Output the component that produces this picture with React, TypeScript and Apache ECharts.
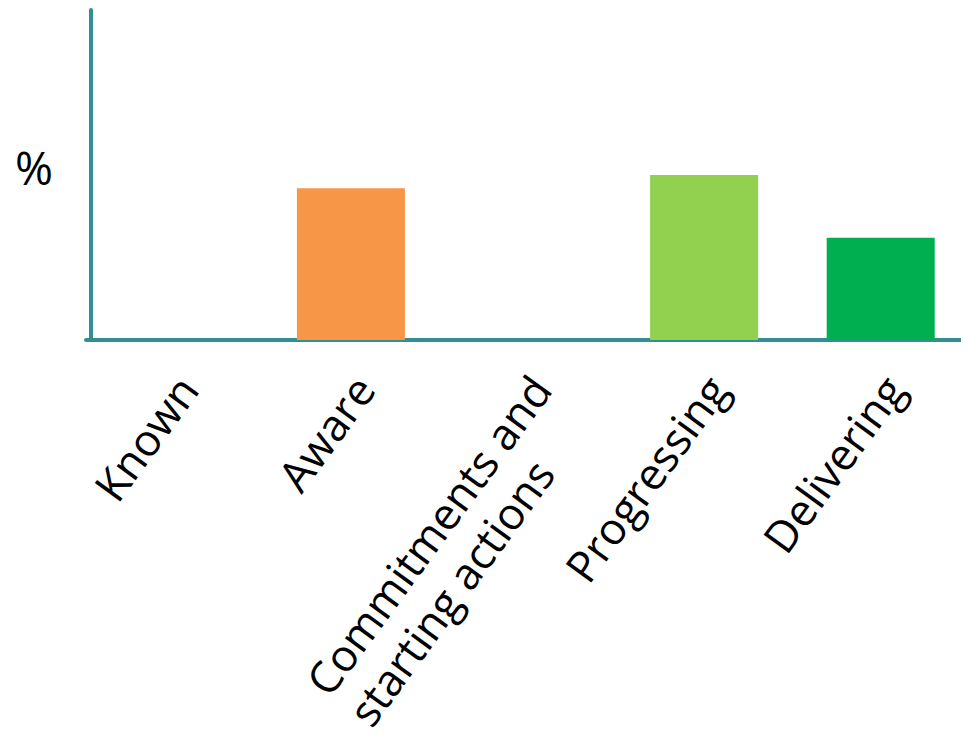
import React, { useEffect, useRef } from "react";
import * as echarts from "echarts";

const categories = ["Known", "Aware", "Commitments and\nstarting actions", "Progressing", "Delivering"];
const values = [0, 46, 0, 50, 31];
const colors = ["#F79646", "#F79646", "#92D050", "#92D050", "#00B050"];

const FONT = "Open Sans";
const LABEL_SIZE = 44;

export default function App() {
  const ref = useRef<HTMLDivElement>(null);
  useEffect(() => {
    const chart = echarts.init(ref.current!, null, { renderer: "svg" });
    chart.setOption({
      animation: false,
      grid: { left: 78, top: 2, width: 886, height: 330 },
      graphic: [
        {
          type: "text",
          left: 7,
          top: 136,
          style: { text: "%", fontSize: 46, fontFamily: FONT, fill: "#000" },
        },
      ],
      xAxis: {
        type: "category",
        data: categories,
        axisLine: { lineStyle: { color: "#31908F", width: 4 } },
        axisTick: { show: false },
        axisLabel: {
          rotate: 54,
          interval: 0,
          margin: 14,
          padding: [0, 14, 0, 0],
          fontSize: LABEL_SIZE,
          fontFamily: FONT,
          color: "#000",
          lineHeight: 52,
          verticalAlign: "top",
          formatter: (v: string) =>
            v.includes("\n") ? v.split("\n").map((s) => `{l|${s}}`).join("\n") : v,
          rich: {
            l: {
              fontSize: LABEL_SIZE,
              fontFamily: FONT,
              color: "#000",
              lineHeight: 52,
              align: "left",
            },
          },
        },
      },
      yAxis: {
        type: "value",
        min: 0,
        max: 100,
        offset: -5,
        axisLine: { show: true, lineStyle: { color: "#31908F", width: 4 } },
        axisTick: { show: false },
        axisLabel: { show: false },
        splitLine: { show: false },
      },
      series: [
        {
          type: "bar",
          barWidth: 108,
          data: values.map((v, i) => ({ value: v, itemStyle: { color: colors[i] } })),
        },
      ],
    });
    return () => chart.dispose();
  }, []);
  return <div ref={ref} style={{ width: 961, height: 737 }} />;
}
